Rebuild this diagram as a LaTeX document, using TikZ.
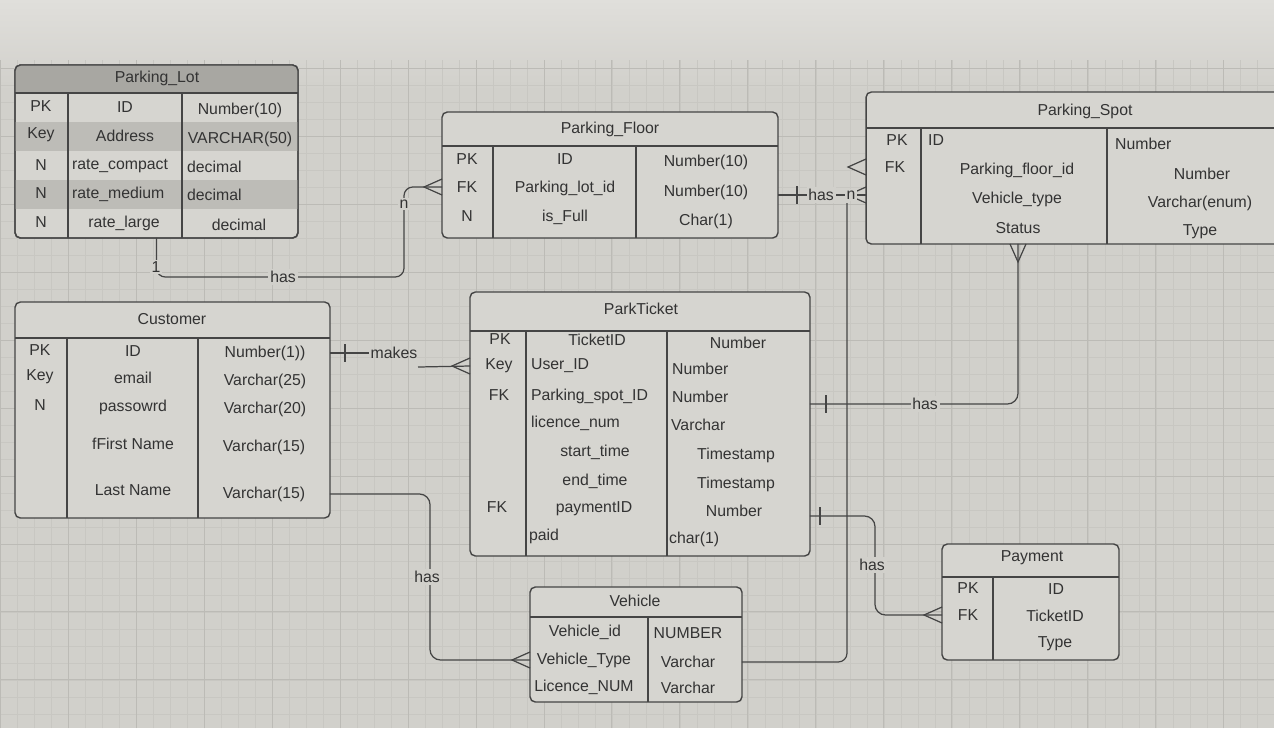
\documentclass[tikz,border=0pt]{standalone}
\usepackage{fontspec}
\setmainfont{Liberation Sans}
\usepackage{xcolor}
\usepackage{tikz}

\definecolor{bgGray}{HTML}{D1D0CB}
\definecolor{bgTop}{HTML}{E0DFDB}
\definecolor{gridMinor}{HTML}{C8C7C2}
\definecolor{gridMajor}{HTML}{BCBBB6}
\definecolor{tblFill}{HTML}{D6D5D0}
\definecolor{tblDark}{HTML}{BDBCB7}
\definecolor{tblHead}{HTML}{A8A7A2}
\definecolor{inkGray}{HTML}{333333}
\definecolor{lineGray}{HTML}{454545}

\tikzset{
tbl/.style = {rectangle, draw=lineGray, line width=0.8pt, fill=tblFill,
              rounded corners=3pt, inner sep=0pt, outer sep=0pt},
tblline/.style = {draw=lineGray, line width=0.7pt},
conn/.style = {draw=lineGray, line width=0.7pt},
lbl/.style = {fill=bgGray, inner sep=1pt}
}
\tikzset{
crow/.pic = {\draw[conn] (0,-8) -- (-18,0) -- (0,8);},  % many
bar/.pic = {\draw[conn] (0,-9) -- (0,9);}               % one
}

\begin{document}
\begin{tikzpicture}[x=0.02cm, y=-0.02cm,
  every node/.style={text=inkGray, font=\fontsize{9}{11}\selectfont, inner sep=1pt}]

\useasboundingbox (0,0) rectangle (1274,728);
\clip (0,0) rectangle (1274,728);

% paper
\fill[bgGray] (0,0) rectangle (1274,728);
\shade[top color=bgTop, bottom color=bgGray] (0,0) rectangle (1274,90);
\draw[gridMinor, line width=0.3pt, step=0.34cm] (0,728) grid (1274,60);
\draw[gridMajor, line width=0.45pt, step=1.36cm] (0,728) grid (1274,60);

% Parking_Lot
\node[tbl, minimum width=5.66cm, minimum height=3.46cm] (parkingLot) at (156.5,151.5) {};
\begin{scope}
\clip[rounded corners=3pt] (15,65) rectangle (298,238);
\fill[tblHead] (15,65) rectangle (298,93);
\fill[tblDark] (15,122) rectangle (298,151);
\fill[tblDark] (15,180) rectangle (298,209);
\end{scope}
\draw[tblline, line width=0.8pt, rounded corners=3pt] (parkingLot.north west) rectangle (parkingLot.south east);
\draw[tblline] (15,93) -- (298,93) (68,93) -- (68,238) (182,93) -- (182,238);
\node (lotTitle) at (157,78) {Parking\_Lot};
\node (lotPk) at (41,106) {PK};
\node (lotKey) at (41,135) {Key};
\node (lotN1) at (41,165) {N};
\node (lotN2) at (41,193) {N};
\node (lotN3) at (41,222) {N};
\node (lotIdName) at (125,107) {ID};
\node (lotAddr) at (125,136) {Address};
\node[anchor=west] (lotCompact) at (70,166) {rate\_compact};
\node[anchor=west] (lotMedium) at (70,194) {rate\_medium};
\node (lotLarge) at (124,223) {rate\_large};
\node (lotIdType) at (240,110) {Number(10)};
\node (lotAddrType) at (240,139) {VARCHAR(50)};
\node[anchor=west] (lotCompactType) at (185,167) {decimal};
\node[anchor=west] (lotMediumType) at (185,195) {decimal};
\node (lotLargeType) at (239,225) {decimal};

% Parking_Floor
\node[tbl, minimum width=6.72cm, minimum height=2.52cm] (parkingFloor) at (610,175) {};
\draw[tblline] (442,146) -- (778,146) (493,146) -- (493,238) (636,146) -- (636,238);
\node (floorTitle) at (610,129) {Parking\_Floor};
\node (floorPk) at (467,159) {PK};
\node (floorFk) at (467,187) {FK};
\node (floorN) at (467,216) {N};
\node (floorIdName) at (565,159) {ID};
\node (floorLotId) at (565,188) {Parking\_lot\_id};
\node (floorFull) at (565,217) {is\_Full};
\node (floorIdType) at (706,162) {Number(10)};
\node (floorLotIdType) at (706,192) {Number(10)};
\node (floorFullType) at (706,221) {Char(1)};

% Parking_Spot
\node[tbl, minimum width=8.48cm, minimum height=3.04cm] (parkingSpot) at (1078,168) {};
\draw[tblline] (866,128) -- (1290,128) (921,128) -- (921,244) (1107,128) -- (1107,244);
\node (spotTitle) at (1085,111) {Parking\_Spot};
\node (spotPk) at (897,140) {PK};
\node (spotFk) at (895,167) {FK};
\node[anchor=west] (spotIdName) at (926,140) {ID};
\node (spotFloorId) at (1017,170) {Parking\_floor\_id};
\node (spotVehType) at (1017,199) {Vehicle\_type};
\node (spotStatus) at (1018,228) {Status};
\node[anchor=west] (spotIdType) at (1113,144) {Number};
\node (spotFloorIdType) at (1202,174) {Number};
\node (spotVehTypeType) at (1200,203) {Varchar(enum)};
\node (spotStatusType) at (1200,232) {Type};

% Customer
\node[tbl, minimum width=6.3cm, minimum height=4.32cm] (customer) at (172.5,410) {};
\draw[tblline] (15,338) -- (330,338) (67,338) -- (67,518) (198,338) -- (198,518);
\node (custTitle) at (172,319) {Customer};
\node (custPk) at (40,350) {PK};
\node (custKey) at (40,377) {Key};
\node (custN) at (40,405) {N};
\node (custIdName) at (133,351) {ID};
\node (custEmail) at (133,378) {email};
\node (custPass) at (133,407) {passowrd};
\node (custFirst) at (133,444) {fFirst Name};
\node (custLast) at (133,490) {Last Name};
\node (custIdType) at (265,353) {Number(1))};
\node (custEmailType) at (265,381) {Varchar(25)};
\node (custPassType) at (265,409) {Varchar(20)};
\node (custFirstType) at (264,447) {Varchar(15)};
\node (custLastType) at (264,494) {Varchar(15)};

% ParkTicket
\node[tbl, minimum width=6.8cm, minimum height=5.28cm] (parkTicket) at (640,424) {};
\draw[tblline] (470,331) -- (810,331) (526,331) -- (526,556) (667,331) -- (667,556);
\node (ticketTitle) at (641,309) {ParkTicket};
\node (ticketPk) at (500,339) {PK};
\node (ticketKey) at (499,366) {Key};
\node (ticketFk) at (499,395) {FK};
\node (ticketFk2) at (497,507) {FK};
\node (ticketIdName) at (597,340) {TicketID};
\node[anchor=west] (ticketUser) at (529,366) {User\_ID};
\node[anchor=west] (ticketSpot) at (529,396) {Parking\_spot\_ID};
\node[anchor=west] (ticketLicence) at (529,423) {licence\_num};
\node (ticketStart) at (595,452) {start\_time};
\node (ticketEnd) at (595,481) {end\_time};
\node (ticketPay) at (594,509) {paymentID};
\node[anchor=west] (ticketPaid) at (527,536) {paid};
\node (ticketIdType) at (738,343) {Number};
\node[anchor=west] (ticketUserType) at (670,369) {Number};
\node[anchor=west] (ticketSpotType) at (670,397) {Number};
\node[anchor=west] (ticketLicenceType) at (669,425) {Varchar};
\node (ticketStartType) at (736,455) {Timestamp};
\node (ticketEndType) at (736,484) {Timestamp};
\node (ticketPayType) at (734,511) {Number};
\node[anchor=west] (ticketPaidType) at (667,539) {char(1)};

% Vehicle
\node[tbl, minimum width=4.24cm, minimum height=2.3cm] (vehicle) at (636,644.5) {};
\draw[tblline] (530,617) -- (742,617) (648,617) -- (648,702);
\node (vehTitle) at (635,601) {Vehicle};
\node (vehId) at (585,632) {Vehicle\_id};
\node (vehType) at (584,660) {Vehicle\_Type};
\node (vehLicence) at (584,687) {Licence\_NUM};
\node (vehIdType) at (688,633) {NUMBER};
\node (vehTypeType) at (688,662) {Varchar};
\node (vehLicenceType) at (688,688) {Varchar};

% Payment
\node[tbl, minimum width=3.54cm, minimum height=2.32cm] (payment) at (1030.5,602) {};
\draw[tblline] (942,577) -- (1119,577) (993,577) -- (993,660);
\node (payTitle) at (1032,558) {Payment};
\node (payPk) at (968,588) {PK};
\node (payFk) at (968,615) {FK};
\node (payIdName) at (1056,589) {ID};
\node (payTicketId) at (1055,616) {TicketID};
\node (payType) at (1055,644) {Type};

% Parking_Lot -- Parking_Floor
\coordinate (lotBend) at (404,277);
\draw[conn, rounded corners=5pt] (parkingLot.south) |- (lotBend) |- (parkingFloor.west |- floorFk);
\pic at (parkingFloor.west |- floorFk) {crow};
\node[lbl] (lotOne) at (156,267) {1};
\node[lbl] (lotHas) at (283,277) {has};
\node[lbl] (lotN) at (404,204) {n};

% Parking_Floor -- Parking_Spot
\coordinate (floorSpotLvl) at (0,195);
\draw[conn] (parkingFloor.east |- floorSpotLvl) -- (parkingSpot.west |- floorSpotLvl);
\pic at (797,195) {bar};
\pic at (parkingSpot.west |- floorSpotLvl) {crow};
\pic at (parkingSpot.west |- spotFk) {crow};
\node[lbl] (floorHas) at (821,195) {has};

% Vehicle -- Parking_Spot
\coordinate (spotJoin) at (847,203);
\draw[conn, rounded corners=5pt] (vehicle.east |- vehTypeType) -| (spotJoin);
\node[lbl] (floorN) at (851,195) {n};

% Customer -- ParkTicket
\node (makesLbl) at (394,353) {makes};
\draw[conn] (customer.east |- custIdType) -- (makesLbl.west);
\pic at (345,353) {bar};
\coordinate (makesStart) at (418,367);
\draw[conn] (makesStart) -- (parkTicket.west |- ticketKey);
\pic at (parkTicket.west |- ticketKey) {crow};

% Customer -- Vehicle
\coordinate (custVehBend) at (430,577);
\draw[conn, rounded corners=6pt] (customer.east |- custLastType) -| (custVehBend) |- (vehicle.west |- vehType);
\pic at (vehicle.west |- vehType) {crow};
\node[lbl] (custVehHas) at (427,577) {has};

% ParkTicket -- Parking_Spot
\coordinate (ticketSpotLvl) at (0,404);
\draw[conn, rounded corners=6pt] (parkTicket.east |- ticketSpotLvl) -| (spotStatus |- parkingSpot.south);
\pic[rotate=90] at (spotStatus |- parkingSpot.south) {crow};
\pic at (826,404) {bar};
\node[lbl] (ticketSpotHas) at (925,404) {has};

% ParkTicket -- Payment
\coordinate (ticketPayLvl) at (0,516);
\coordinate (ticketPayBend) at (875,565);
\draw[conn, rounded corners=6pt] (parkTicket.east |- ticketPayLvl) -| (ticketPayBend) |- (payment.west |- payFk);
\pic at (payment.west |- payFk) {crow};
\pic at (820,516) {bar};
\node[lbl] (ticketPayHas) at (872,565) {has};

\end{tikzpicture}
\end{document}
